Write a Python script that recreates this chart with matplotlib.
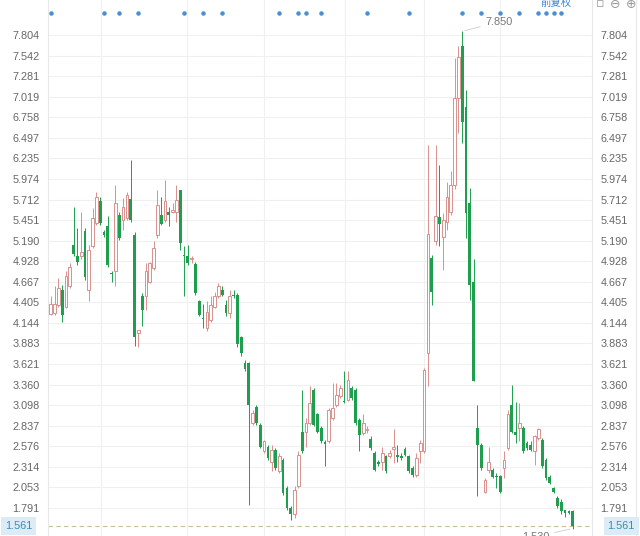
import matplotlib
matplotlib.use("Agg")
import matplotlib.pyplot as plt
import numpy as np

######################### DATA #########################

opens = [4.26, 4.27, 4.37, 4.56, 4.35, 4.61, 5.14, 4.99, 5.00, 5.31,
         4.56, 5.12, 5.41, 5.69, 5.30, 5.37, 4.78, 4.80, 5.52, 5.45,
         5.48, 5.72, 5.26, 4.01, 4.48, 4.48, 4.67, 4.84, 5.26, 5.52,
         5.45, 5.56, 5.55, 5.56, 5.83, 5.00, 4.99, 4.95, 4.89, 4.42,
         4.21, 4.08, 4.18, 4.35, 4.48, 4.56, 4.37, 4.27, 4.50, 4.50,
         3.96, 3.64, 3.63, 2.87, 3.08, 2.85, 2.51, 2.57, 2.38, 2.53,
         2.26, 2.40, 2.04, 1.79, 1.71, 2.07, 2.76, 2.76, 2.87, 3.29,
         2.98, 2.81, 2.62, 2.64, 2.93, 3.10, 3.21, 3.15, 3.17, 3.31,
         3.29, 2.91, 2.74, 2.78, 2.67, 2.49, 2.37, 2.38, 2.45, 2.45,
         2.54, 2.46, 2.45, 2.54, 2.45, 2.30, 2.21, 2.51, 2.51, 3.76,
         4.97, 5.18, 5.49, 5.24, 5.43, 5.56, 5.90, 7.00, 7.66, 6.89,
         5.67, 4.67, 2.81, 2.59, 2.00, 2.28, 2.28, 2.20, 2.20, 2.30,
         2.55, 3.10, 2.76, 2.81, 2.81, 2.62, 2.59, 2.51, 2.68, 2.66,
         2.40, 2.19, 2.04, 1.92, 1.87, 1.76, 1.75, 1.75]
highs = [4.48, 4.61, 4.72, 4.63, 4.80, 4.90, 5.62, 5.35, 5.56, 5.35,
         5.14, 5.60, 5.81, 5.75, 5.33, 5.50, 4.80, 5.90, 5.56, 5.73,
         5.81, 6.22, 5.30, 4.06, 4.52, 4.90, 4.92, 5.18, 5.83, 5.75,
         5.96, 5.62, 5.67, 5.90, 5.83, 5.12, 5.14, 4.99, 4.92, 4.44,
         4.39, 4.42, 4.48, 4.54, 4.65, 4.61, 4.44, 4.56, 4.56, 4.52,
         3.98, 3.67, 3.65, 3.04, 3.10, 2.87, 2.66, 2.59, 2.59, 2.55,
         2.49, 2.43, 2.07, 1.81, 2.07, 2.51, 3.29, 2.93, 3.34, 3.31,
         3.00, 2.83, 2.66, 3.06, 3.38, 3.38, 3.36, 3.53, 3.53, 3.34,
         3.31, 2.93, 2.98, 2.83, 2.70, 2.51, 2.40, 2.57, 2.47, 2.53,
         2.79, 2.59, 2.49, 2.57, 2.47, 2.32, 2.49, 2.66, 3.57, 6.41,
         5.01, 6.41, 6.15, 5.54, 5.94, 6.07, 7.51, 7.66, 7.85, 7.11,
         5.86, 4.95, 3.10, 2.62, 2.17, 2.57, 2.30, 2.23, 2.21, 2.51,
         3.04, 3.36, 3.14, 3.12, 2.83, 2.64, 2.64, 2.72, 2.81, 2.68,
         2.43, 2.21, 2.06, 1.94, 1.90, 1.77, 1.77, 1.76]
lows = [4.25, 4.25, 4.34, 4.16, 4.33, 4.59, 4.99, 4.88, 4.95, 4.69,
        4.42, 5.09, 5.39, 5.39, 5.23, 4.86, 4.67, 4.61, 5.20, 5.33,
        5.45, 5.43, 3.85, 3.84, 4.10, 4.31, 4.65, 4.82, 5.22, 5.39,
        5.43, 5.37, 5.54, 5.43, 5.07, 4.48, 4.88, 4.90, 4.50, 4.23,
        4.08, 4.04, 4.16, 4.33, 4.46, 4.48, 4.23, 4.20, 4.46, 3.84,
        3.72, 3.53, 1.83, 2.85, 2.85, 2.55, 2.49, 2.40, 2.26, 2.28,
        2.23, 1.96, 1.77, 1.64, 1.66, 2.04, 2.49, 2.57, 2.85, 2.83,
        2.74, 2.62, 2.32, 2.62, 2.91, 3.08, 3.19, 3.12, 3.15, 3.17,
        2.85, 2.51, 2.72, 2.74, 2.53, 2.26, 2.32, 2.28, 2.23, 2.43,
        2.36, 2.38, 2.40, 2.45, 2.23, 2.19, 2.19, 2.36, 2.49, 3.34,
        4.37, 5.14, 5.12, 4.82, 5.33, 5.52, 5.85, 6.56, 6.43, 5.22,
        4.44, 3.40, 1.94, 2.28, 1.98, 2.23, 2.17, 2.04, 1.98, 2.17,
        2.53, 2.74, 2.62, 2.64, 2.49, 2.53, 2.51, 2.34, 2.66, 2.30,
        2.15, 2.09, 1.98, 1.79, 1.71, 1.68, 1.71, 1.53]
closes = [4.39, 4.39, 4.59, 4.25, 4.74, 4.86, 5.02, 4.92, 5.05, 4.73,
          5.07, 5.48, 5.75, 5.41, 5.26, 4.88, 4.76, 5.67, 5.22, 5.62,
          5.77, 5.45, 3.97, 4.05, 4.31, 4.80, 4.90, 5.09, 5.64, 5.40,
          5.69, 5.52, 5.58, 5.71, 5.16, 4.99, 4.91, 4.96, 4.52, 4.25,
          4.19, 4.28, 4.37, 4.48, 4.61, 4.50, 4.27, 4.48, 4.48, 3.87,
          3.76, 3.56, 3.10, 3.00, 2.87, 2.57, 2.64, 2.43, 2.53, 2.30,
          2.45, 1.98, 1.79, 1.71, 2.02, 2.47, 2.51, 2.87, 3.12, 2.85,
          2.76, 2.64, 2.61, 3.04, 3.06, 3.23, 3.31, 3.14, 3.42, 3.19,
          2.87, 2.72, 2.87, 2.79, 2.55, 2.28, 2.35, 2.49, 2.26, 2.49,
          2.56, 2.44, 2.43, 2.47, 2.26, 2.21, 2.43, 2.62, 3.55, 5.28,
          4.54, 5.50, 5.40, 5.45, 5.75, 5.90, 7.00, 7.53, 6.70, 5.54,
          4.63, 3.40, 2.59, 2.30, 2.15, 2.38, 2.19, 2.18, 2.00, 2.40,
          2.98, 2.76, 2.72, 2.87, 2.51, 2.55, 2.53, 2.70, 2.79, 2.32,
          2.17, 2.11, 2.00, 1.81, 1.75, 1.73, 1.73, 1.561]

tick_labels = ["7.804", "7.542", "7.281", "7.019", "6.758", "6.497", "6.235", "5.974",
               "5.712", "5.451", "5.190", "4.928", "4.667", "4.405", "4.144", "3.883",
               "3.621", "3.360", "3.098", "2.837", "2.576", "2.314", "2.053", "1.791"]
last_price = "1.561"
peak_label = "7.850"
low_label = "1.530"

# candles carrying an event marker on the top row
event_idx = [0, 14, 18, 23, 35, 40, 45, 60, 65, 67, 71, 83, 94,
             108, 113, 118, 123, 128, 130, 132, 134]
# first candle of each month (vertical grid)
month_idx = [13.2, 35.8, 56, 77.2, 98, 117.9]

######################### FIGURE #########################

plt.rcParams["font.family"] = ["Liberation Sans", "Noto Sans CJK SC", "DejaVu Sans"]

UP = "#d9908c"
DOWN = "#1f9f4e"
GRID = "#f0f0f0"
LABEL = "#666666"

fig = plt.figure(figsize=(6.4, 5.36), dpi=100)
W, H = 640, 536
ax = fig.add_axes([48 / W, 0, (592 - 48) / W, 1])

o, h, l, c = (np.array(v) for v in (opens, highs, lows, closes))
x = np.arange(len(o))
up = c >= o

ax.vlines(x[up], l[up], h[up], color=UP, lw=0.7, zorder=2)
ax.vlines(x[~up], l[~up], h[~up], color=DOWN, lw=0.7, zorder=2)
body_lo = np.minimum(o, c)
body_h = np.maximum(np.abs(c - o), 0.014)
ax.bar(x[up], body_h[up], bottom=body_lo[up], width=0.72, facecolor="white",
       edgecolor=UP, linewidth=0.7, zorder=3)
ax.bar(x[~up], body_h[~up], bottom=body_lo[~up], width=0.72, color=DOWN,
       linewidth=0, zorder=3)

# scales: 1 candle = 3.81 px, 1 price unit = 78.66 px
ax.set_xlim(-0.71, 142.07)
ax.set_ylim(7.804 - 501 / 78.66, 7.804 + 35 / 78.66)

ticks = [float(t) for t in tick_labels]
ax.set_yticks(ticks)
ax.set_yticklabels(tick_labels)
ax.set_xticks([])
ax.tick_params(axis="y", length=0, labelleft=True, labelright=True,
               labelsize=7.8, labelcolor=LABEL, pad=6)
ax.grid(axis="y", color=GRID, lw=0.8, zorder=0)
for m in month_idx:
    ax.axvline(m, color=GRID, lw=0.8, zorder=0)
for side in ["top", "bottom"]:
    ax.spines[side].set_visible(False)
for side in ["left", "right"]:
    ax.spines[side].set_color("#e8e8e8")
    ax.spines[side].set_linewidth(0.8)

##### EVENT MARKERS #####

ax.scatter(event_idx, [0.976] * len(event_idx), transform=ax.get_xaxis_transform(),
           s=5, color="#4a8fd4", zorder=4, clip_on=False)

##### LAST PRICE LINE #####

lp = float(last_price)
ax.axhline(lp, color="#cdbd9c", lw=0.8, ls=(0, (4, 3)), zorder=1)
for xpos, ha in [(0.008, "left"), (0.992, "right")]:
    fig.text(xpos, 1 - 526 / H, last_price,
             ha=ha, va="center", fontsize=7.8, color="#3a8bb8",
             bbox=dict(boxstyle="square,pad=0.35", fc="#dcecf7", ec="none"))

##### PEAK / LOW ANNOTATIONS #####

ipk = int(np.argmax(h))
ax.annotate(peak_label, xy=(ipk, h[ipk]), xytext=(17, 7), textcoords="offset points",
            fontsize=7.8, color="#777777", ha="left", va="center",
            arrowprops=dict(arrowstyle="-", color="#cccccc", lw=0.6))
ilo = len(l) - 1
ax.annotate(low_label, xy=(ilo, l[ilo]), xytext=(-17, -6), textcoords="offset points",
            fontsize=7.8, color="#777777", ha="right", va="center",
            arrowprops=dict(arrowstyle="-", color="#cccccc", lw=0.6), annotation_clip=False)

##### TOP RIGHT CONTROLS #####

fig.text(556 / W, 1 - 3 / H, "前复权", ha="center", va="center", fontsize=7.5,
         color="#3d86d6")
for px, sym in [(600, "▫"), (615, "⊖"), (631, "⊕")]:
    fig.text(px / W, 1 - 4 / H, sym, ha="center", va="center", fontsize=9,
             color="#9a9a9a", family=["DejaVu Sans"])
fig.add_artist(plt.Line2D([636 / W, 636 / W], [0, 1], color="#e8e8e8", lw=0.8))

fig.savefig("out.png", dpi=100)
